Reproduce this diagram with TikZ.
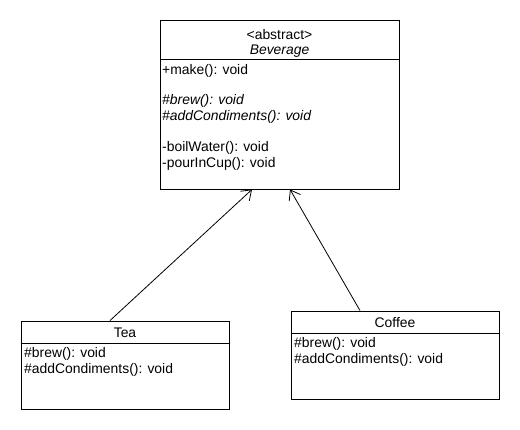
\documentclass[tikz,border=0pt]{standalone}
\usepackage{fontspec}
\setmainfont{Liberation Sans}
\usetikzlibrary{arrows.meta,calc}
\begin{document}
\begin{tikzpicture}[x=1pt,y=-1pt,
  every node/.style={font=\fontsize{13.9}{16}\selectfont},
  box/.style={draw,line width=0.9pt,inner sep=0pt,fill=white},
  sep/.style={line width=0.9pt},
  lbl/.style={anchor=base west,inner sep=0pt},
  ttl/.style={anchor=base,inner sep=0pt},
  gen/.style={line width=0.8pt,-{Straight Barb[length=9pt,width=13pt,line width=0.8pt]}}]
\useasboundingbox[fill=white] (0,0) rectangle (520,430);
% boxes
\node[box,minimum width=239pt,minimum height=169pt] (bev) at (279.5,104.5) {};
\node[box,minimum width=208pt,minimum height=88pt] (tea) at (125,365) {};
\node[box,minimum width=208pt,minimum height=88pt] (cof) at (395,355) {};
% separators
\draw[sep] (bev.west |- 0,59) -- (bev.east |- 0,59);
\draw[sep] (tea.west |- 0,343) -- (tea.east |- 0,343);
\draw[sep] (cof.west |- 0,333) -- (cof.east |- 0,333);
% Beverage texts
\node[ttl] (bstereo) at (279.5,40) {<abstract>};
\node[ttl] (bname) at (279.5,54.5) {\itshape Beverage};
\node[lbl] (bm1) at (162,75) {+make(): void};
\node[lbl] (bm2) at (162,105) {\itshape \#brew(): void};
\node[lbl] (bm3) at (162,121) {\itshape \#addCondiments(): void};
\node[lbl] (bm4) at (162,152) {-boilWater(): void};
\node[lbl] (bm5) at (162,168) {-pourInCup(): void};
% Tea texts
\node[ttl] (tname) at (125,338) {Tea};
\node[lbl] (tm1) at (24,358) {\#brew(): void};
\node[lbl] (tm2) at (24,374) {\#addCondiments(): void};
% Coffee texts
\node[ttl] (cname) at (395,328) {Coffee};
\node[lbl] (cm1) at (294,348) {\#brew(): void};
\node[lbl] (cm2) at (294,364) {\#addCondiments(): void};
% generalisations
\draw[gen] ($(tea.north)+(-15,0)$) -- ($(bev.south)+(-27.5,0)$);
\draw[gen] ($(cof.north)+(-35,0)$) -- ($(bev.south)+(10.5,0)$);
\end{tikzpicture}
\end{document}
